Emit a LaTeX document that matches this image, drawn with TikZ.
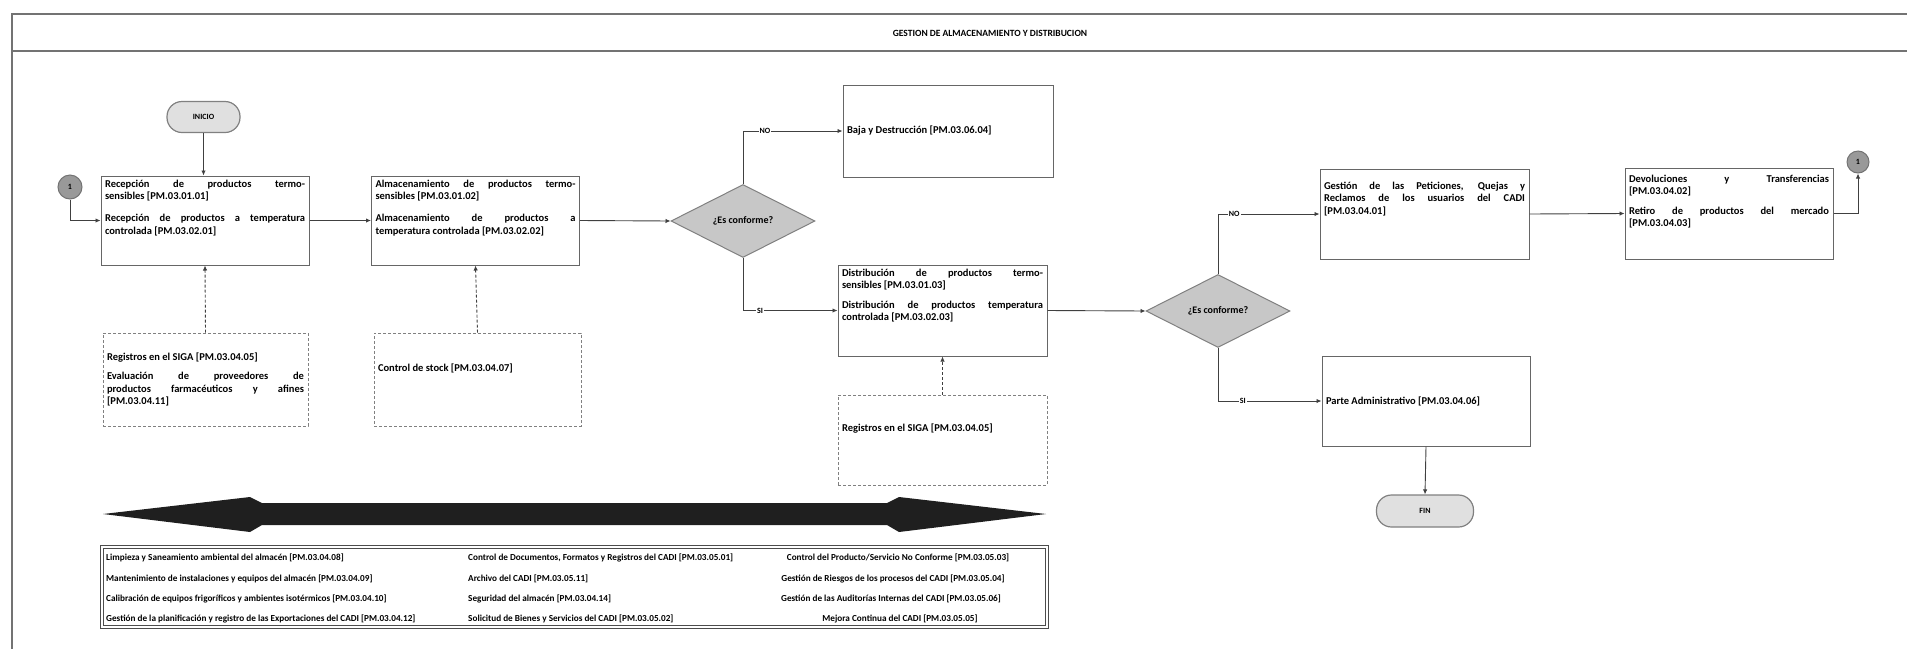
\documentclass[tikz,border=0pt]{standalone}
\usepackage{fontspec}
\setmainfont{Carlito}
\usetikzlibrary{shapes.geometric,arrows.meta}
% top-aligned and centred text blocks inside process boxes
\newcommand\boxbody[3]{\parbox[c][#2][t]{#1}{#3}}
\newcommand\boxmid[3]{\parbox[c][#2][c]{#1}{#3}}
\newcommand\pskip{\par\vspace{9.5pt}}
% justified forced line break that does not swallow a following bracket
\newcommand\brk{\linebreak\relax}
\begin{document}
\begin{tikzpicture}[x=1pt,y=-1pt,
  proc/.style={rectangle, draw=black!60, line width=1pt, fill=white, inner sep=4pt,
    font=\bfseries\fontsize{10.5}{12.5}\selectfont},
  dproc/.style={proc, draw=black!50, dash pattern=on 3pt off 2pt},
  dec/.style={diamond, draw=black!50, fill=black!22, line width=1pt, minimum width=144pt,
    minimum height=73pt, inner sep=0pt, font=\bfseries\fontsize{10}{12}\selectfont},
  term/.style={rectangle, rounded corners=15pt, draw=black!50, fill=black!12, line width=1.2pt,
    inner sep=0pt, font=\bfseries\fontsize{8}{10}\selectfont},
  conn/.style={circle, draw=black!55, fill=black!40, line width=1pt, minimum size=24pt,
    inner sep=0pt, font=\bfseries\fontsize{8}{10}\selectfont},
  flow/.style={draw=black!75, line width=0.9pt, -{Latex[length=5pt,width=4.5pt]}},
  dflow/.style={flow, dash pattern=on 3pt off 2pt},
  lbl/.style={fill=white, inner sep=1pt, font=\bfseries\fontsize{8}{9}\selectfont},
  cell/.style={inner sep=0pt, font=\bfseries\fontsize{9.2}{11}\selectfont},
  frameline/.style={draw=black!55, line width=1.5pt}
]
\useasboundingbox (0,0) rectangle (1907,649);

% page frame and title band
\coordinate (ftl) at (12,14);
\coordinate (ftr) at (1907,14);
\coordinate (fml) at (12,51);
\coordinate (fmr) at (1907,51);
\coordinate (fbl) at (12,649);
\draw[frameline] (ftr) -- (ftl) -- (fbl);
\draw[frameline] (fml) -- (fmr);
\node[font=\bfseries\fontsize{9.5}{11}\selectfont] (title) at (990,33) {GESTION DE ALMACENAMIENTO Y DISTRIBUCION};

% terminals and off-page connectors
\node[term, minimum width=73pt, minimum height=31pt] (inicio) at (203.5,117) {INICIO};
\node[term, minimum width=97pt, minimum height=32pt] (fin) at (1425,511) {FIN};
\node[conn] (c1) at (70,187) {1};
\node[conn, minimum size=22pt] (c2) at (1858,162) {1};

% process boxes
\node[proc] (recep) at (205,220.5) {\boxbody{200pt}{81pt}{%
  Recepción de productos termo-\brk sensibles [PM.03.01.01]\pskip
  Recepción de productos a temperatura\brk controlada [PM.03.02.01]}};
\node[proc] (almac) at (475.5,220.5) {\boxbody{200pt}{81pt}{%
  Almacenamiento de productos termo-\brk sensibles [PM.03.01.02]\pskip
  Almacenamiento de productos a\brk temperatura controlada [PM.03.02.02]}};
\node[proc] (baja) at (948,131) {\boxmid{202pt}{84pt}{Baja y Destrucción [PM.03.06.04]}};
\node[proc] (distr) at (942.5,310.5) {\boxbody{201pt}{83pt}{%
  Distribución de productos termo-\brk sensibles [PM.03.01.03]\par\vspace{7pt}
  Distribución de productos temperatura\brk controlada [PM.03.02.03]}};
\node[proc] (gest) at (1424.5,214) {\boxbody{201pt}{82pt}{\vspace{9pt}%
  Gestión de las Peticiones, Quejas y\brk Reclamos de los usuarios del CADI\brk [PM.03.04.01]}};
\node[proc] (parte) at (1426,401) {\boxmid{200pt}{82pt}{Parte Administrativo [PM.03.04.06]}};
\node[proc] (devol) at (1729,213.5) {\boxbody{200pt}{83pt}{\vspace{3pt}%
  Devoluciones y Transferencias\brk [PM.03.04.02]\par\vspace{7pt}
  Retiro de productos del mercado\brk [PM.03.04.03]}};

% supporting (dashed) boxes
\node[dproc] (siga1) at (205.5,379.5) {\boxmid{197pt}{85pt}{%
  Registros en el SIGA [PM.03.04.05]\par\vspace{7pt}
  Evaluación de proveedores de\brk productos farmacéuticos y afines\brk [PM.03.04.11]}};
\node[dproc] (stock) at (477.5,379.5) {\boxmid{199pt}{85pt}{%
  Control de stock [PM.03.04.07]\par\vspace{22pt}}};
\node[dproc] (siga2) at (942.5,440) {\boxmid{201pt}{82pt}{%
  Registros en el SIGA [PM.03.04.05]\par\vspace{22pt}}};

% decisions
\node[dec] (dec1) at (743,221) {¿Es conforme?};
\node[dec] (dec2) at (1218,311) {¿Es conforme?};

% main flow
\draw[flow] (inicio.south) -- (inicio.south |- recep.north);
\draw[flow] (c1.south) |- (recep.west);
\draw[flow] (recep.east) -- (almac.west);
\draw[flow] (almac.east) -- (dec1.west);
\draw[flow] (dec1.north) |- node[lbl, pos=0.61] {NO} (baja.west);
\draw[flow] (dec1.south) |- node[lbl, pos=0.59] {SI} (distr.west);
\draw[flow] (distr.east) -- (dec2.west);
\draw[flow] (dec2.north) |- node[lbl, pos=0.58] {NO} (gest.west);
\draw[flow] (dec2.south) |- node[lbl, pos=0.62] {SI} (parte.west);
\draw[flow] (gest.east) -- (devol.west);
\draw[flow] (devol.east) -| (c2.south);
\draw[flow] (parte.south) -- (fin.north);

% support links
\draw[dflow] (siga1.north) -- (recep.south);
\draw[dflow] (stock.north) -- (almac.south);
\draw[dflow] (siga2.north) -- (distr.south);

% cross-cutting double arrow with long slender heads
\fill[black!88] (103,514) -- (250,497) -- (262,503) -- (887,503) -- (899,497)
  -- (1046,514) -- (899,532) -- (887,525) -- (262,525) -- (250,532) -- cycle;

% support processes table
\node[rectangle, draw=black!70, line width=0.8pt, double=white, double distance=1.5pt,
  minimum width=945pt, minimum height=80pt, inner sep=0pt] (tbl) at (574.5,587) {};
\node[cell, anchor=west] (t11) at (106,558) {Limpieza y Saneamiento ambiental del almacén [PM.03.04.08]};
\node[cell, anchor=west] (t21) at (106,579) {Mantenimiento de instalaciones y equipos del almacén [PM.03.04.09]};
\node[cell, anchor=west] (t31) at (106,599) {Calibración de equipos frigoríficos y ambientes isotérmicos [PM.03.04.10]};
\node[cell, anchor=west] (t41) at (106,619) {Gestión de la planificación y registro de las Exportaciones del CADI [PM.03.04.12]};
\node[cell, anchor=west] (t12) at (468,558) {Control de Documentos, Formatos y Registros del CADI [PM.03.05.01]};
\node[cell, anchor=west] (t22) at (468,579) {Archivo del CADI [PM.03.05.11]};
\node[cell, anchor=west] (t32) at (468,599) {Seguridad del almacén [PM.03.04.14]};
\node[cell, anchor=west] (t42) at (468,619) {Solicitud de Bienes y Servicios del CADI [PM.03.05.02]};
\node[cell] (t13) at (898,558) {Control del Producto/Servicio No Conforme [PM.03.05.03]};
\node[cell] (t23) at (893,579) {Gestión de Riesgos de los procesos del CADI [PM.03.05.04]};
\node[cell] (t33) at (891,599) {Gestión de las Auditorías Internas del CADI [PM.03.05.06]};
\node[cell] (t43) at (900,619) {Mejora Continua del CADI [PM.03.05.05]};
\end{tikzpicture}
\end{document}
